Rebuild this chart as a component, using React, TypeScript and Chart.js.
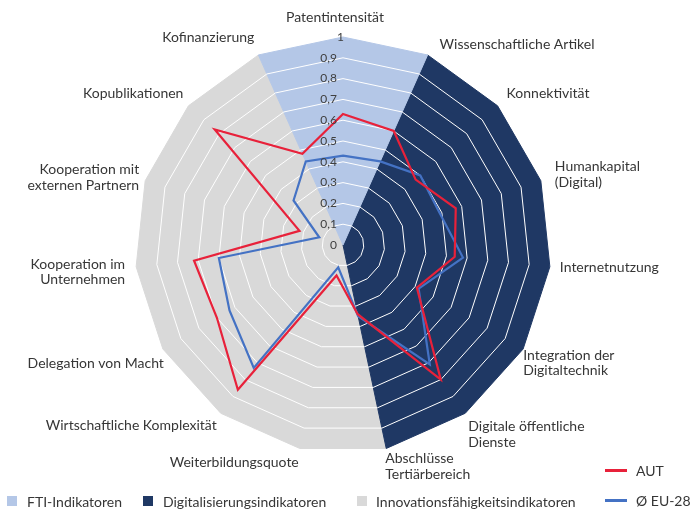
import React, { useEffect, useRef } from 'react';
import { Chart, registerables } from 'chart.js';

Chart.register(...registerables);

// ---------- data ----------
const categories: (string | string[])[] = [
  'Patentintensität',
  'Wissenschaftliche Artikel',
  'Konnektivität',
  ['Humankapital', '(Digital)'],
  'Internetnutzung',
  ['Integration der', 'Digitaltechnik'],
  ['Digitale öffentliche', 'Dienste'],
  ['Abschlüsse', 'Tertiärbereich'],
  'Weiterbildungsquote',
  'Wirtschaftliche Komplexität',
  'Delegation von Macht',
  ['Kooperation im', 'Unternehmen'],
  ['Kooperation mit', 'externen Partnern'],
  'Kopublikationen',
  'Kofinanzierung',
];

const autValues = [0.63, 0.6, 0.47, 0.57, 0.54, 0.41, 0.8, 0.34, 0.15, 0.86, 0.7, 0.72, 0.22, 0.83, 0.48];
const euValues = [0.43, 0.44, 0.5, 0.49, 0.58, 0.42, 0.71, 0.35, 0.11, 0.73, 0.63, 0.6, 0.12, 0.32, 0.44];

const ftiGroup = [1, 1, 0, 0, 0, 0, 0, 0, 0, 0, 0, 0, 0, 0, 1];
const digitalGroup = [0, 1, 1, 1, 1, 1, 1, 1, 0, 0, 0, 0, 0, 0, 0];
const innovationGroup = [0, 0, 0, 0, 0, 0, 0, 1, 1, 1, 1, 1, 1, 1, 1];

const tickLabels = ['0', '0,1', '0,2', '0,3', '0,4', '0,5', '0,6', '0,7', '0,8', '0,9', '1'];

const seriesNames = ['AUT', 'Ø EU-28'];
const groupNames = ['FTI-Indikatoren', 'Digitalisierungsindikatoren', 'Innovationsfähigkeitsindikatoren'];

// ---------- style ----------
const COLORS = {
  aut: '#E8213A',
  eu: '#4472C4',
  fti: '#B4C7E7',
  digital: '#1F3864',
  innovation: '#D9D9D9',
  text: '#363636',
};
const FONT = 'Lato, "Open Sans", sans-serif';

// label placement relative to each axis' outer vertex (style only)
const labelAlign: CanvasTextAlign[] = [
  'center', 'left', 'left', 'left', 'left', 'left', 'left', 'left',
  'right', 'right', 'right', 'right', 'right', 'right', 'right',
];
const labelShift: [number, number][] = [
  [-8, -20], [12, -10], [9, -12], [14, -6], [10, 1], [0, 14], [3, 21], [-1, 18],
  [-1, 14], [-4, 12], [1, 14], [-11, 5], [-6, -3], [-5, -12], [-4, -17],
];

const overlayPlugin = {
  id: 'overlayPlugin',
  afterDatasetDraw(chart: any, args: any) {
    // after the last background sector is painted, redraw the white grid rings on top
    if (args.index === 2) {
      chart.scales.r.drawGrid();
    }
  },
  afterDatasetsDraw(chart: any) {
    const scale = chart.scales.r;
    const ctx: CanvasRenderingContext2D = chart.ctx;
    ctx.save();
    // tick labels
    ctx.font = `12px ${FONT}`;
    ctx.fillStyle = '#404040';
    ctx.textAlign = 'right';
    ctx.textBaseline = 'middle';
    const last = scale.ticks.length - 1;
    scale.ticks.forEach((t: any, i: number) => {
      const p = scale.getPointPositionForValue(0, t.value);
      ctx.fillText(tickLabels[i] ?? String(t.label), p.x - (i === last ? -1 : 6), p.y);
    });
    // point labels
    ctx.font = `14px ${FONT}`;
    ctx.fillStyle = COLORS.text;
    const lh = 15.5;
    categories.forEach((lab, i) => {
      const lines = Array.isArray(lab) ? lab : [lab];
      const p = scale.getPointPositionForValue(i, 1);
      const [dx, dy] = labelShift[i];
      ctx.textAlign = labelAlign[i];
      const x = p.x + dx;
      const cy = p.y + dy;
      const top = cy - ((lines.length - 1) * lh) / 2;
      lines.forEach((ln, k) => ctx.fillText(ln, x, top + k * lh));
    });
    ctx.restore();
  },
};

function RadarChart() {
  const ref = useRef<HTMLCanvasElement | null>(null);
  useEffect(() => {
    if (!ref.current) return;
    const chart = new Chart(ref.current, {
      type: 'radar',
      data: {
        labels: categories,
        datasets: [
          {
            label: seriesNames[0],
            data: autValues,
            borderColor: COLORS.aut,
            borderWidth: 2.2,
            pointRadius: 0,
            fill: false,
            borderJoinStyle: 'miter',
          },
          {
            label: seriesNames[1],
            data: euValues,
            borderColor: COLORS.eu,
            borderWidth: 2.2,
            pointRadius: 0,
            fill: false,
            borderJoinStyle: 'miter',
          },
          {
            label: groupNames[0],
            data: ftiGroup,
            backgroundColor: COLORS.fti,
            borderColor: COLORS.fti,
            borderWidth: 1,
            pointRadius: 0,
            fill: true,
          },
          {
            label: groupNames[1],
            data: digitalGroup,
            backgroundColor: COLORS.digital,
            borderColor: COLORS.digital,
            borderWidth: 1,
            pointRadius: 0,
            fill: true,
          },
          {
            label: groupNames[2],
            data: innovationGroup,
            backgroundColor: COLORS.innovation,
            borderColor: COLORS.innovation,
            borderWidth: 1,
            pointRadius: 0,
            fill: true,
          },
        ],
      } as any,
      options: {
        responsive: false,
        maintainAspectRatio: false,
        animation: false,
        devicePixelRatio: 1,
        layout: { padding: { left: 135, right: 140, top: 37, bottom: 56 } },
        plugins: {
          legend: { display: false },
          tooltip: { enabled: false },
        },
        elements: { line: { tension: 0 } },
        scales: {
          r: {
            min: 0,
            max: 1,
            startAngle: 0,
            ticks: { stepSize: 0.1, display: false, showLabelBackdrop: false },
            grid: {
              color: (c: any) => (c.tick && c.tick.value >= 1 ? 'rgba(0,0,0,0)' : '#FFFFFF'),
              lineWidth: 1,
            },
            angleLines: { display: false },
            pointLabels: { display: false },
          },
        },
      } as any,
      plugins: [overlayPlugin],
    });
    return () => chart.destroy();
  }, []);
  return <canvas ref={ref} width={691} height={509} style={{ display: 'block' }} />;
}

const legendText: React.CSSProperties = {
  position: 'absolute',
  fontFamily: FONT,
  fontSize: 14,
  color: COLORS.text,
  lineHeight: '16px',
  whiteSpace: 'nowrap',
};

function Swatch({ x, y, color }: { x: number; y: number; color: string }) {
  return <div style={{ position: 'absolute', left: x, top: y, width: 10, height: 10, background: color }} />;
}
function LineMark({ x, y, color }: { x: number; y: number; color: string }) {
  return <div style={{ position: 'absolute', left: x, top: y, width: 22, height: 3, background: color }} />;
}

export default function App() {
  return (
    <div style={{ position: 'fixed', left: 0, top: 0, width: 691, height: 509, background: '#FFFFFF', overflow: 'hidden' }}>
      <RadarChart />
      <Swatch x={7} y={496} color={COLORS.fti} />
      <div style={{ ...legendText, left: 27, top: 494 }}>{groupNames[0]}</div>
      <Swatch x={143} y={496} color={COLORS.digital} />
      <div style={{ ...legendText, left: 163, top: 494 }}>{groupNames[1]}</div>
      <Swatch x={357} y={496} color={COLORS.innovation} />
      <div style={{ ...legendText, left: 376, top: 494 }}>{groupNames[2]}</div>
      <LineMark x={605} y={469} color={COLORS.aut} />
      <div style={{ ...legendText, left: 636, top: 463 }}>{seriesNames[0]}</div>
      <LineMark x={605} y={499} color={COLORS.eu} />
      <div style={{ ...legendText, left: 636, top: 493 }}>{seriesNames[1]}</div>
    </div>
  );
}
